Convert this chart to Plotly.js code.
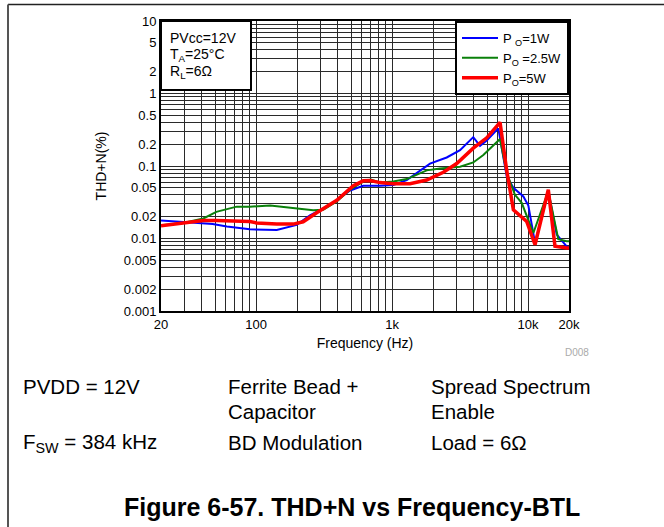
<!DOCTYPE html>
<html>
<head>
<meta charset="utf-8">
<script src="https://cdn.plot.ly/plotly-3.0.1.min.js"></script>
<style>
html,body{margin:0;padding:0;background:#fff;}
#chart{width:664px;height:527px;}
</style>
</head>
<body>
<div id="chart"></div>
<script>
// ---- data ----
var freq1W   = [20, 29, 48, 61, 90, 142, 199, 249, 350, 491, 614, 815, 1021, 1282, 1604, 1901, 2522, 3161, 3956, 4436, 4968, 6044, 6966, 7800, 9234, 10050, 11250, 14090, 16250, 19230, 20000];
var thd1W    = [0.0177, 0.0168, 0.0158, 0.0146, 0.0134, 0.0131, 0.0154, 0.0209, 0.0291, 0.046, 0.0534, 0.0534, 0.0545, 0.064, 0.087, 0.108, 0.131, 0.165, 0.25, 0.19, 0.225, 0.33, 0.072, 0.05, 0.038, 0.0284, 0.0087, 0.045, 0.0113, 0.0078, 0.0076];

var freq25W  = [20, 29, 41, 51, 72, 90, 127, 188, 263, 312, 392, 491, 614, 700, 815, 1021, 1282, 1797, 2250, 3161, 3956, 4690, 6220, 6966, 8010, 8980, 10940, 14090, 16680, 19230, 20000];
var thd25W   = [0.0152, 0.0164, 0.0189, 0.0233, 0.0275, 0.0275, 0.0285, 0.0262, 0.0245, 0.0249, 0.0325, 0.047, 0.061, 0.065, 0.059, 0.061, 0.066, 0.087, 0.0925, 0.098, 0.112, 0.142, 0.236, 0.08, 0.04, 0.031, 0.0119, 0.045, 0.0098, 0.0092, 0.0092];

var freq5W   = [20, 29, 41, 51, 90, 101, 142, 188, 222, 279, 392, 519, 614, 688, 815, 1021, 1354, 1797, 2383, 2988, 3956, 4968, 6220, 6966, 7800, 9770, 11250, 14090, 15770, 19230, 20000];
var thd5W    = [0.015, 0.0164, 0.0177, 0.0177, 0.0172, 0.0164, 0.0158, 0.0158, 0.017, 0.0227, 0.0337, 0.0534, 0.0624, 0.063, 0.059, 0.057, 0.057, 0.064, 0.082, 0.108, 0.176, 0.245, 0.40, 0.087, 0.0249, 0.0172, 0.0082, 0.047, 0.0078, 0.0074, 0.0074];

var seriesNames = ["P <sub>O</sub>=1W", "P<sub>O</sub> =2.5W", "P<sub>O</sub>=5W"];

var xTickVals = [20, 100, 1000, 10000, 20000];
var xTickText = ["20", "100", "1k", "10k", "20k"];
var yTickVals = [0.001, 0.002, 0.005, 0.01, 0.02, 0.05, 0.1, 0.2, 0.5, 1, 2, 5, 10];
var yTickText = ["0.001", "0.002", "0.005", "0.01", "0.02", "0.05", "0.1", "0.2", "0.5", "1", "2", "5", "10"];

// minor grid values (every digit of each decade)
function minorVals(lo, hi, skip) {
  var out = [];
  for (var d = lo; d < hi; d++) {
    for (var m = 1; m <= 9; m++) {
      var v = m * Math.pow(10, d);
      var keep = true;
      for (var k = 0; k < skip.length; k++) if (Math.abs(skip[k] - v) / v < 1e-9) keep = false;
      if (keep) out.push(v);
    }
  }
  return out;
}
var xMinor = minorVals(1, 5, xTickVals).filter(function (v) { return v > 20 && v < 20000; });
var yMinor = minorVals(-3, 1, yTickVals);

// ---- geometry helpers (plot area in px) ----
var W = 664, H = 527;
var L = 161, R = 569, T = 21, B = 311;
function px(x) { return (x - L) / (R - L); }
function py(y) { return (B - y) / (B - T); }

var FONT = "Liberation Sans, Arial, Helvetica, sans-serif";

var traces = [
  {x: freq1W, y: thd1W, name: seriesNames[0], mode: "lines", line: {color: "#0000ff", width: 2}},
  {x: freq25W, y: thd25W, name: seriesNames[1], mode: "lines", line: {color: "#0a800a", width: 2}},
  {x: freq5W, y: thd5W, name: seriesNames[2], mode: "lines", line: {color: "#ff0000", width: 3.5}}
];

var gridC = "#2a2a2a";

var layout = {
  width: W, height: H,
  margin: {l: L, r: W - R, t: T, b: H - B, pad: 0},
  paper_bgcolor: "#ffffff",
  plot_bgcolor: "#ffffff",
  font: {family: FONT, color: "#000", size: 13},
  showlegend: true,
  legend: {
    x: 1, xanchor: "right", y: 1, yanchor: "top",
    bgcolor: "#ffffff", bordercolor: "#000", borderwidth: 2,
    font: {family: FONT, size: 13, color: "#000"},
    itemwidth: 36,
    tracegroupgap: 0
  },
  xaxis: {
    type: "log",
    range: [Math.log10(20), Math.log10(20000)],
    tickmode: "array", tickvals: xTickVals, ticktext: xTickText,
    ticks: "", showgrid: true, gridcolor: gridC, gridwidth: 1,
    minor: {tickmode: "array", tickvals: xMinor, showgrid: true, gridcolor: gridC, gridwidth: 1, ticks: ""},
    showline: true, linecolor: "#000", linewidth: 2, mirror: true,
    tickfont: {size: 13, color: "#000"},
    title: {text: "Frequency (Hz)", font: {size: 14, color: "#000"}, standoff: 8},
    automargin: false, zeroline: false
  },
  yaxis: {
    type: "log",
    range: [-3, 1],
    tickmode: "array", tickvals: yTickVals, ticktext: yTickText,
    ticks: "", showgrid: true, gridcolor: gridC, gridwidth: 1,
    minor: {tickmode: "array", tickvals: yMinor, showgrid: true, gridcolor: gridC, gridwidth: 1, ticks: ""},
    showline: true, linecolor: "#000", linewidth: 2, mirror: true,
    tickfont: {size: 13, color: "#000"},
    title: {text: "THD+N(%)", font: {size: 14, color: "#000"}, standoff: 14},
    automargin: false, zeroline: false
  },
  shapes: [
    // condition box
    {type: "rect", xref: "paper", yref: "paper", x0: 0, x1: px(251), y0: py(90), y1: 1,
     fillcolor: "#ffffff", line: {color: "#000", width: 2}, layer: "above"},
    // outer frame (top and left edges)
    {type: "line", xref: "paper", yref: "paper", x0: px(8), x1: px(664), y0: py(4.5), y1: py(4.5),
     line: {color: "#222", width: 1.5}},
    {type: "line", xref: "paper", yref: "paper", x0: px(8), x1: px(8), y0: py(4.5), y1: py(540),
     line: {color: "#555", width: 2}}
  ],
  annotations: [
    {xref: "paper", yref: "paper", x: px(168), y: py(38), xanchor: "left", yanchor: "middle", showarrow: false,
     text: "PVcc=12V", font: {size: 14}},
    {xref: "paper", yref: "paper", x: px(168), y: py(55), xanchor: "left", yanchor: "middle", showarrow: false,
     text: "T<sub>A</sub>=25°C", font: {size: 14}},
    {xref: "paper", yref: "paper", x: px(168), y: py(72), xanchor: "left", yanchor: "middle", showarrow: false,
     text: "R<sub>L</sub>=6Ω", font: {size: 14}},
    {xref: "paper", yref: "paper", x: px(577), y: py(352), xanchor: "center", yanchor: "middle", showarrow: false,
     text: "D008", font: {size: 10, color: "#aaaaaa"}},

    {xref: "paper", yref: "paper", x: px(21), y: py(386), xanchor: "left", yanchor: "middle", showarrow: false,
     text: "PVDD = 12V", font: {size: 20.5}},
    {xref: "paper", yref: "paper", x: px(226), y: py(386), xanchor: "left", yanchor: "middle", showarrow: false,
     text: "Ferrite Bead +", font: {size: 20.5}},
    {xref: "paper", yref: "paper", x: px(226), y: py(411), xanchor: "left", yanchor: "middle", showarrow: false,
     text: "Capacitor", font: {size: 20.5}},
    {xref: "paper", yref: "paper", x: px(429), y: py(386), xanchor: "left", yanchor: "middle", showarrow: false,
     text: "Spread Spectrum", font: {size: 20.5}},
    {xref: "paper", yref: "paper", x: px(429), y: py(411), xanchor: "left", yanchor: "middle", showarrow: false,
     text: "Enable", font: {size: 20.5}},
    {xref: "paper", yref: "paper", x: px(21), y: py(443), xanchor: "left", yanchor: "middle", showarrow: false,
     text: "F<sub>SW</sub> = 384 kHz", font: {size: 20.5}},
    {xref: "paper", yref: "paper", x: px(226), y: py(442), xanchor: "left", yanchor: "middle", showarrow: false,
     text: "BD Modulation", font: {size: 20.5}},
    {xref: "paper", yref: "paper", x: px(429), y: py(442), xanchor: "left", yanchor: "middle", showarrow: false,
     text: "Load = 6Ω", font: {size: 20.5}},

    {xref: "paper", yref: "paper", x: px(352), y: py(507), xanchor: "center", yanchor: "middle", showarrow: false,
     text: "<b>Figure 6-57. THD+N vs Frequency-BTL</b>", font: {size: 25}}
  ]
};

Plotly.newPlot("chart", traces, layout, {displayModeBar: false, staticPlot: true});
</script>
</body>
</html>
